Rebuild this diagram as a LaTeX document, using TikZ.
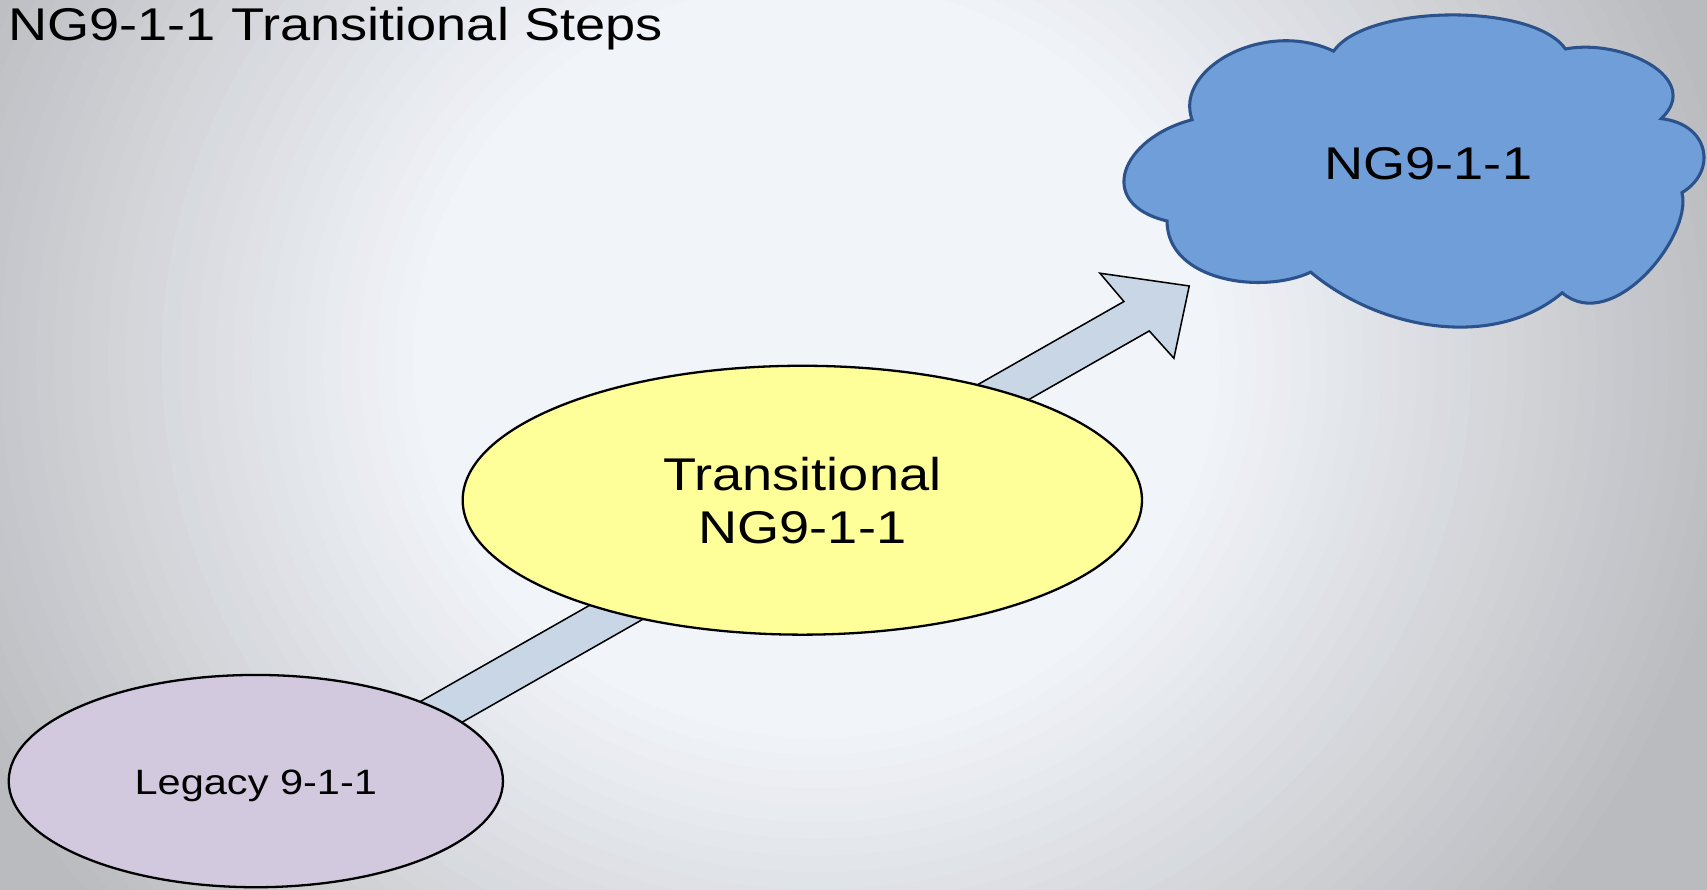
\documentclass[tikz,border=0pt]{standalone}
\usepackage{fontspec}
\setmainfont{Liberation Sans}[FakeStretch=1.18]
\usepackage{xcolor}
\usepackage{tikz}
\usetikzlibrary{shapes}
\usetikzlibrary{shapes.geometric}

\definecolor{slidelight}{RGB}{241,244,249}
\definecolor{slidegray}{RGB}{186,187,191}
\definecolor{legacyfill}{RGB}{210,201,223}
\definecolor{transfill}{RGB}{255,255,153}
\definecolor{cloudfill}{RGB}{112,158,217}
\definecolor{cloudline}{RGB}{44,82,140}
\definecolor{arrowfill}{RGB}{200,214,229}

\begin{document}
\begin{tikzpicture}[
	x=0.1mm, y=0.1mm,
	font=\fontsize{12}{13.9}\selectfont
]
\tikzset{
    myellipse/.style = {ellipse, draw=black, line width=0.6pt, inner sep=0pt, align=center},
    myarrow/.style = {fill=arrowfill, draw=black, line width=0.4pt, line join=miter},
    mycloud/.style = {fill=cloudfill, draw=cloudline, line width=0.8pt}
}
\useasboundingbox (0,0) rectangle (1568,817);
% slide background, light in the middle
\fill[slidegray] (-10,-10) rectangle (1578,827);
\foreach \k [evaluate=\k as \dd using 1.05-0.02*\k, evaluate=\k as \pct using 100*\k/30] in {0,...,30}
    \fill[slidelight!\pct!slidegray] (750,487) ellipse [x radius=824*\dd, y radius=773*\dd];
% block arrow, tail hidden under the legacy ellipse
\draw[myarrow] (300,123.6) -- (1032.4,540) -- (1010.4,566) -- (1092.4,554.3)
    -- (1078.3,487.9) -- (1055.7,513) -- (330,99.8) -- cycle;
% cloud
\draw[mycloud] (1095,707)
    .. controls (1078,754) and (1162,800) .. (1225,770)
    .. controls (1255,813) and (1408,815) .. (1438,772)
    .. controls (1490,782) and (1565,745) .. (1526,708)
    .. controls (1570,703) and (1578,660) .. (1545,640)
    .. controls (1555,600) and (1481,509) .. (1435,548)
    .. controls (1372,495) and (1267,514) .. (1204,567)
    .. controls (1159,546) and (1072,559) .. (1072,614)
    .. controls (1005,630) and (1030,690) .. (1095,707) -- cycle;
\node[inner sep=0pt] (ngcloud) at (1312,667) {NG9-1-1};
\node[myellipse,fill=transfill,minimum width=62.4mm,minimum height=24.7mm] (transitional) at (737,357.5) {Transitional\\NG9-1-1};
\node[myellipse,fill=legacyfill,minimum width=45.4mm,minimum height=19.5mm,text height=3.2mm,text depth=0.7mm,font=\fontsize{9.2}{11}\selectfont] (legacy) at (235,99.5) {Legacy 9-1-1};
\node[anchor=base west,inner sep=0pt] (title) at (7,780) {NG9-1-1 Transitional Steps};
\end{tikzpicture}
\end{document}
